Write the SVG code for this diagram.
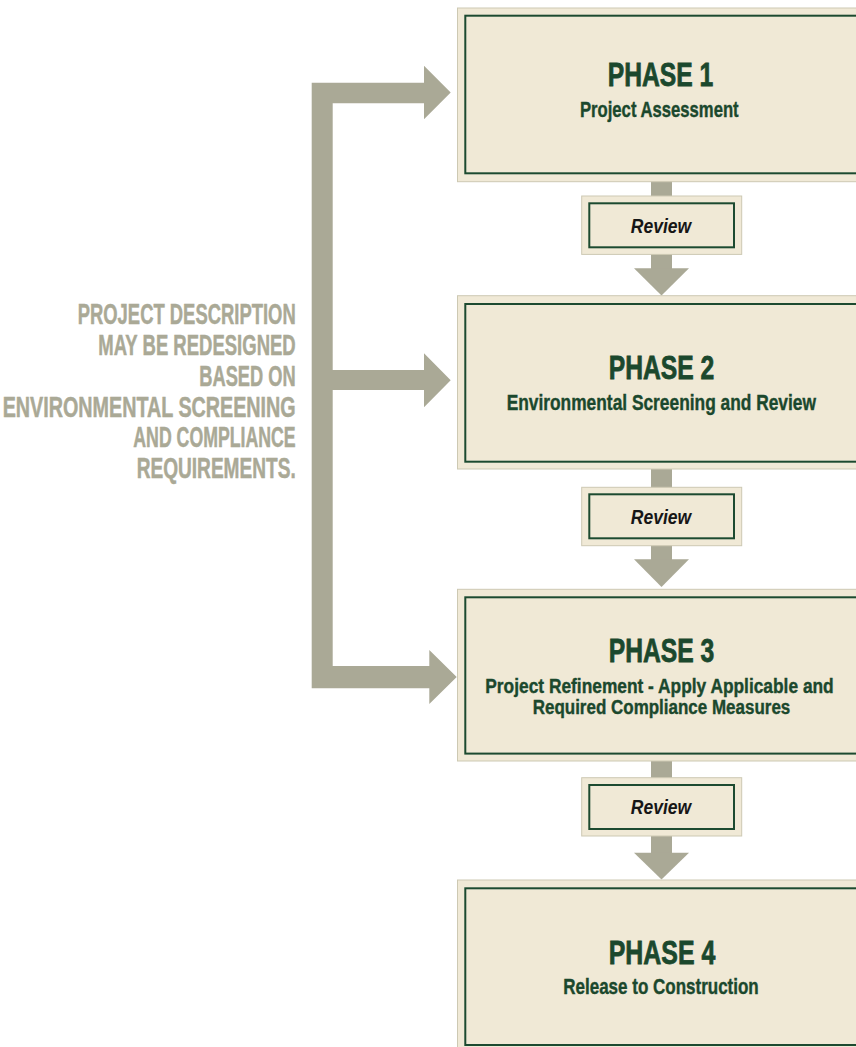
<svg xmlns="http://www.w3.org/2000/svg" width="856" height="1047" viewBox="0 0 856 1047">
<style>
.outer{fill:#f0e9d6;stroke:#cdc9b3;stroke-width:1}
.inner{fill:none;stroke:#1c4a30;stroke-width:2}
.conn{fill:#aaa996}
.title{font-family:"Liberation Sans",Arial,sans-serif;font-weight:bold;font-size:34px;fill:#1b482d;stroke:#1b482d;stroke-width:0.8;text-anchor:middle}
.sub{font-family:"Liberation Sans",Arial,sans-serif;font-weight:bold;font-size:22px;fill:#1b482d;stroke:#1b482d;stroke-width:0.4;text-anchor:middle}
.sub2{font-size:20.5px}
.rev{font-family:"Liberation Sans",Arial,sans-serif;font-weight:bold;font-style:italic;font-size:20.5px;fill:#161616;text-anchor:middle}
.note{font-family:"Liberation Sans",Arial,sans-serif;font-weight:bold;font-size:29px;fill:#aaa996;stroke:#aaa996;stroke-width:0.5;text-anchor:end}
</style>
<rect width="856" height="1047" fill="#ffffff"/>
<g id="connectors">
  <path class="conn" d="M311.7,82.7 H424 V65.7 L450.7,92.5 L424,119.3 V103.3 H332.7 V370 H424 V353.3 L450.7,380.3 L424,407.3 V390 H332.7 V666 H429.3 V650 L456.7,677 L429.3,704 V688.3 H311.7 Z"/>
  <rect class="conn" x="651" y="181" width="21" height="88"/>
  <polygon class="conn" points="634,268.3 689,268.3 661.5,295.5"/>
  <rect class="conn" x="651" y="468" width="21" height="92"/>
  <polygon class="conn" points="634,559.3 689,559.3 661.5,587"/>
  <rect class="conn" x="651" y="760" width="21" height="93"/>
  <polygon class="conn" points="634,852.7 689,852.7 661.5,879.5"/>
</g>
<g id="phase1">
  <rect class="outer" x="457.5" y="8" width="420" height="173.7"/>
  <rect class="inner" x="465.3" y="15.7" width="420" height="157.6"/>
  <text class="title" x="660.5" y="86" textLength="105.6" lengthAdjust="spacingAndGlyphs">PHASE 1</text>
  <text class="sub" transform="translate(659.3,116.7) scale(0.8,1)" x="0" y="0" textLength="198.4" lengthAdjust="spacingAndGlyphs">Project Assessment</text>
</g>
<g id="review1">
  <rect class="outer" x="581.7" y="196" width="160" height="58.4"/>
  <rect class="inner" x="589.3" y="203.3" width="144.7" height="44"/>
  <text class="rev" x="661" y="232.7" textLength="60.3" lengthAdjust="spacingAndGlyphs">Review</text>
</g>
<g id="phase2">
  <rect class="outer" x="457.5" y="295.7" width="420" height="173.3"/>
  <rect class="inner" x="465.3" y="304" width="420" height="157.7"/>
  <text class="title" x="661.5" y="379.3" textLength="105.6" lengthAdjust="spacingAndGlyphs">PHASE 2</text>
  <text class="sub" transform="translate(661.3,410) scale(0.8,1)" x="0" y="0" textLength="386.6" lengthAdjust="spacingAndGlyphs">Environmental Screening and Review</text>
</g>
<g id="review2">
  <rect class="outer" x="581.7" y="487.3" width="160" height="58.4"/>
  <rect class="inner" x="589.3" y="494.3" width="144.7" height="44"/>
  <text class="rev" x="661" y="524" textLength="60.3" lengthAdjust="spacingAndGlyphs">Review</text>
</g>
<g id="phase3">
  <rect class="outer" x="457.5" y="589.3" width="420" height="171.7"/>
  <rect class="inner" x="465.3" y="597.3" width="420" height="156.3"/>
  <text class="title" x="661.5" y="661.7" textLength="105.6" lengthAdjust="spacingAndGlyphs">PHASE 3</text>
  <text class="sub sub2" transform="translate(659.5,692.7) scale(0.8,1)" x="0" y="0" textLength="435.5" lengthAdjust="spacingAndGlyphs">Project Refinement - Apply Applicable and</text>
  <text class="sub sub2" transform="translate(661.5,714) scale(0.8,1)" x="0" y="0" textLength="322" lengthAdjust="spacingAndGlyphs">Required Compliance Measures</text>
</g>
<g id="review3">
  <rect class="outer" x="581.7" y="777.7" width="160" height="58.3"/>
  <rect class="inner" x="589.3" y="785" width="144.7" height="44"/>
  <text class="rev" x="661" y="814.4" textLength="60.3" lengthAdjust="spacingAndGlyphs">Review</text>
</g>
<g id="phase4">
  <rect class="outer" x="457.5" y="880" width="420" height="180"/>
  <rect class="inner" x="465.3" y="888.3" width="420" height="156.7"/>
  <text class="title" x="662" y="964" textLength="106.6" lengthAdjust="spacingAndGlyphs">PHASE 4</text>
  <text class="sub" transform="translate(661,994) scale(0.8,1)" x="0" y="0" textLength="244.3" lengthAdjust="spacingAndGlyphs">Release to Construction</text>
</g>
<g id="note">
  <text class="note" x="295.7" y="324.3" textLength="218" lengthAdjust="spacingAndGlyphs">PROJECT DESCRIPTION</text>
  <text class="note" x="295.7" y="355.3" textLength="197.4" lengthAdjust="spacingAndGlyphs">MAY BE REDESIGNED</text>
  <text class="note" x="295.7" y="385.7" textLength="96.4" lengthAdjust="spacingAndGlyphs">BASED ON</text>
  <text class="note" x="295.7" y="416.7" textLength="293" lengthAdjust="spacingAndGlyphs">ENVIRONMENTAL SCREENING</text>
  <text class="note" x="295.7" y="447.3" textLength="162.4" lengthAdjust="spacingAndGlyphs">AND COMPLIANCE</text>
  <text class="note" x="295.7" y="478.3" textLength="159" lengthAdjust="spacingAndGlyphs">REQUIREMENTS.</text>
</g>
</svg>
